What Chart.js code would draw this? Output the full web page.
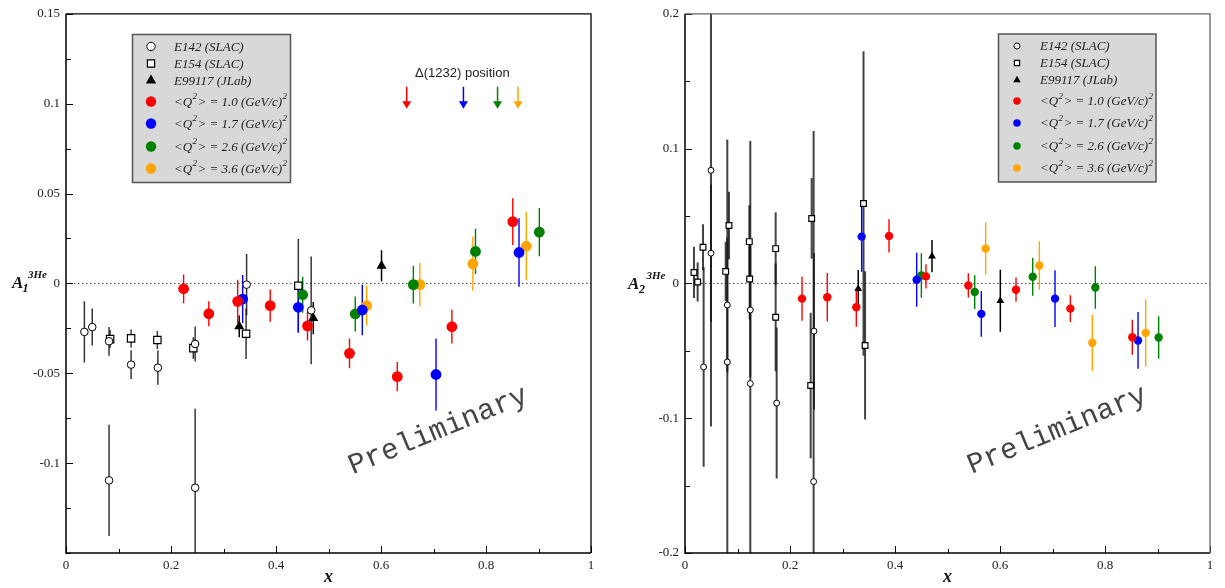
<!DOCTYPE html>
<html>
<head>
<meta charset="utf-8">
<title>A1 and A2 of 3He</title>
<script src="https://cdn.jsdelivr.net/npm/chart.js@4.4.1/dist/chart.umd.min.js"></script>
<style>
  body { margin: 0; background: #fff; }
  canvas { position: absolute; top: 0; }
  #chartA1 { left: 0; }
  #chartA2 { left: 612px; }
</style>
</head>
<body>
<canvas id="chartA1" width="612" height="588"></canvas>
<canvas id="chartA2" width="612" height="588"></canvas>
<script>
// ---- A1 (3He) ----
const a1E142X = [0.035, 0.050, 0.082, 0.124, 0.175, 0.246, 0.344, 0.467, 0.082, 0.246];
const a1E142Y = [-0.027, -0.0243, -0.0322, -0.0452, -0.0469, -0.0337, -0.0007, -0.015, -0.1096, -0.1137];
const a1E142Err = [0.017, 0.0103, 0.008, 0.008, 0.0095, 0.0097, 0.017, 0.030, 0.031, 0.044];

const a1E154X = [0.084, 0.124, 0.174, 0.2425, 0.343, 0.4425];
const a1E154Y = [-0.031, -0.0306, -0.0315, -0.036, -0.028, -0.0013];
const a1E154Err = [0.005, 0.005, 0.005, 0.006, 0.014, 0.026];

const a1JlabX = [0.330, 0.471, 0.601];
const a1JlabY = [-0.0239, -0.0193, 0.0098];
const a1JlabErr = [0.006, 0.009, 0.0087];

const a1Q10X = [0.224, 0.272, 0.327, 0.389, 0.460, 0.540, 0.631, 0.735, 0.851];
const a1Q10Y = [-0.003, -0.0169, -0.010, -0.0124, -0.0237, -0.0389, -0.0519, -0.0241, 0.0344];
const a1Q10Err = [0.008, 0.007, 0.012, 0.009, 0.008, 0.0083, 0.0081, 0.0094, 0.013];

const a1Q17X = [0.3365, 0.4425, 0.5644, 0.7048, 0.8629];
const a1Q17Y = [-0.0087, -0.0133, -0.0148, -0.0507, 0.0172];
const a1Q17Err = [0.0134, 0.014, 0.014, 0.020, 0.019];

const a1Q26X = [0.4508, 0.551, 0.6616, 0.780, 0.9016];
const a1Q26Y = [-0.0063, -0.017, -0.0007, 0.0178, 0.0285];
const a1Q26Err = [0.010, 0.0097, 0.0105, 0.0126, 0.0134];

const a1Q36X = [0.5727, 0.674, 0.775, 0.8768];
const a1Q36Y = [-0.0124, -0.0007, 0.0109, 0.0207];
const a1Q36Err = [0.011, 0.012, 0.015, 0.019];

// Delta(1232) position for each Q2 setting
const deltaX = [0.649, 0.757, 0.822, 0.861];

// ---- A2 (3He) ----
const a2E142X = [0.0355, 0.0495, 0.0495, 0.0806, 0.0806, 0.1244, 0.1244, 0.1746, 0.2457, 0.245];
const a2E142Y = [-0.062, 0.0839, 0.0224, -0.016, -0.0583, -0.0197, -0.0743, -0.0888, -0.0354, -0.147];
const a2E142Err = [0.074, 0.19, 0.051, 0.05, 0.165, 0.05, 0.18, 0.056, 0.058, 0.26];

const a2E154X = [0.0171, 0.0241, 0.0343, 0.0775, 0.0838, 0.1225, 0.1232, 0.1727, 0.1727, 0.2413, 0.2394, 0.340, 0.343];
const a2E154Y = [0.0081, 0.001, 0.0268, 0.0089, 0.043, 0.031, 0.0032, 0.0258, -0.0251, 0.0482, -0.0758, 0.0593, -0.046];
const a2E154Err = [0.019, 0.0145, 0.017, 0.022, 0.025, 0.027, 0.03, 0.027, 0.04, 0.03, 0.054, 0.113, 0.055];

const a2JlabX = [0.330, 0.4705, 0.6006];
const a2JlabY = [-0.004, 0.0202, -0.0128];
const a2JlabErr = [0.014, 0.012, 0.023];

const a2Q10X = [0.2229, 0.271, 0.3263, 0.3886, 0.459, 0.5397, 0.6305, 0.734, 0.852];
const a2Q10Y = [-0.0113, -0.0103, -0.0177, 0.0352, 0.0052, -0.0015, -0.0047, -0.0187, -0.0399];
const a2Q10Err = [0.0165, 0.018, 0.0145, 0.0123, 0.009, 0.009, 0.009, 0.0099, 0.013];

const a2Q17X = [0.3365, 0.4413, 0.5644, 0.7048, 0.8629];
const a2Q17Y = [0.0347, 0.0027, -0.0226, -0.0113, -0.0423];
const a2Q17Err = [0.026, 0.02, 0.017, 0.021, 0.021];

const a2Q26X = [0.4502, 0.5518, 0.6623, 0.7816, 0.9022];
const a2Q26Y = [0.0059, -0.0064, 0.0049, -0.003, -0.0401];
const a2Q26Err = [0.0165, 0.0125, 0.014, 0.0158, 0.0158];

const a2Q36X = [0.5727, 0.6749, 0.7758, 0.8775];
const a2Q36Y = [0.0258, 0.0133, -0.044, -0.0367];
const a2Q36Err = [0.0193, 0.018, 0.021, 0.025];

const q2Bins = [1.0, 1.7, 2.6, 3.6];
const q2Colors = ['#ff0000', '#0000ff', '#008000', '#ffa500'];
const legendLabels = ['E142 (SLAC)', 'E154 (SLAC)', 'E99117 (JLab)']
  .concat(q2Bins.map(q => `<Q²> = ${q.toFixed(1)} (GeV/c)²`));

const SERIF = '"Liberation Serif", "Times New Roman", serif';

function series(label, xs, ys, errs, style) {
  return Object.assign({
    label: label,
    data: xs.map((x, i) => ({ x: x, y: ys[i] })),
    err: errs
  }, style);
}

function panelDatasets(sets, small) {
  const k = small ? 0.78 : 1;
  const blackBar = small ? 'rgba(20,20,20,0.8)' : 'rgba(20,20,20,0.85)';
  const out = [
    series(legendLabels[0], sets[0][0], sets[0][1], sets[0][2],
      { pointStyle: 'circle', pointRadius: 3.8 * k, backgroundColor: '#fff', borderColor: '#000', borderWidth: 1, barColor: blackBar, barWidth: small ? 2 : 1.5 }),
    series(legendLabels[1], sets[1][0], sets[1][1], sets[1][2],
      { pointStyle: 'rect', pointRadius: 5.2 * k, backgroundColor: '#fff', borderColor: '#000', borderWidth: 1.2, barColor: blackBar, barWidth: small ? 2 : 1.5 }),
    series(legendLabels[2], sets[2][0], sets[2][1], sets[2][2],
      { pointStyle: 'triangle', pointRadius: 5.8 * k, backgroundColor: '#000', borderColor: '#000', borderWidth: 0, barColor: '#000', barWidth: 1.5 })
  ];
  for (let i = 0; i < 4; i++) {
    const s = sets[3 + i];
    out.push(series(legendLabels[3 + i], s[0], s[1], s[2],
      { pointStyle: 'circle', pointRadius: 5.4 * k, backgroundColor: q2Colors[i], borderColor: q2Colors[i], borderWidth: 0, barColor: q2Colors[i], barWidth: 1.4 }));
  }
  return out;
}

function tickLabel(every, hideBelow) {
  return v => {
    if (hideBelow !== undefined && v < hideBelow) return '';
    const k = v / every;
    return Math.abs(k - Math.round(k)) < 1e-6 ? String(+v.toFixed(3)) : '';
  };
}

// error bars under the markers, zero line
const errorBars = {
  id: 'errorBars',
  beforeDatasetsDraw(chart) {
    const { ctx, chartArea: a, scales: { x, y } } = chart;
    ctx.save();
    ctx.beginPath();
    ctx.rect(a.left, a.top, a.width, a.height);
    ctx.clip();

    ctx.strokeStyle = '#444';
    ctx.lineWidth = 1;
    ctx.setLineDash([1.5, 2.5]);
    const y0 = y.getPixelForValue(0);
    ctx.beginPath();
    ctx.moveTo(a.left, y0);
    ctx.lineTo(a.right, y0);
    ctx.stroke();
    ctx.setLineDash([]);

    chart.data.datasets.forEach(ds => {
      ctx.strokeStyle = ds.barColor;
      ctx.lineWidth = ds.barWidth;
      ds.data.forEach((p, i) => {
        const px = x.getPixelForValue(p.x);
        ctx.beginPath();
        ctx.moveTo(px, y.getPixelForValue(p.y - ds.err[i]));
        ctx.lineTo(px, y.getPixelForValue(p.y + ds.err[i]));
        ctx.stroke();
      });
    });
    ctx.restore();
  }
};

function legendMarker(ctx, ds, x, y, small) {
  const k = small ? 0.72 : 1;
  ctx.save();
  ctx.fillStyle = ds.backgroundColor;
  ctx.strokeStyle = ds.borderColor;
  ctx.lineWidth = ds.borderWidth || 1;
  ctx.beginPath();
  if (ds.pointStyle === 'rect') {
    const s = 3.6 * k;
    ctx.rect(x - s, y - s, 2 * s, 2 * s);
    ctx.fill(); ctx.stroke();
  } else if (ds.pointStyle === 'triangle') {
    const r = 6 * k;
    ctx.moveTo(x, y - r);
    ctx.lineTo(x + r * 0.866, y + r * 0.5);
    ctx.lineTo(x - r * 0.866, y + r * 0.5);
    ctx.closePath();
    ctx.fill();
  } else if (ds.backgroundColor === '#fff') {
    ctx.arc(x, y, 4.2 * k, 0, Math.PI * 2);
    ctx.fill(); ctx.stroke();
  } else {
    ctx.arc(x, y, 5.2 * k, 0, Math.PI * 2);
    ctx.fill();
  }
  ctx.restore();
}

// text with "²" drawn as a raised small 2
function drawSupText(ctx, text, x, y, size) {
  const parts = text.split('²');
  parts.forEach((p, i) => {
    ctx.font = `italic ${size}px ${SERIF}`;
    ctx.fillText(p, x, y);
    x += ctx.measureText(p).width;
    if (i < parts.length - 1) {
      ctx.font = `italic ${Math.round(size * 0.68)}px ${SERIF}`;
      ctx.fillText('2', x + 0.3, y - size * 0.42);
      x += ctx.measureText('2').width + 0.8;
    }
  });
}

const decor = {
  id: 'decor',
  afterDraw(chart, args, opts) {
    const { ctx, chartArea: a, scales: { x, y } } = chart;
    ctx.save();

    // inward tick marks
    ctx.strokeStyle = '#000';
    ctx.lineWidth = 1;
    x.ticks.forEach(t => {
      const px = Math.round(x.getPixelForValue(t.value)) + 0.5;
      const len = t.label ? 7 : 4;
      ctx.beginPath();
      ctx.moveTo(px, a.bottom);
      ctx.lineTo(px, a.bottom - len);
      ctx.stroke();
    });
    y.ticks.forEach(t => {
      const py = Math.round(y.getPixelForValue(t.value)) + 0.5;
      const len = t.label ? 7 : 5;
      ctx.beginPath();
      ctx.moveTo(a.left, py);
      ctx.lineTo(a.left + len, py);
      ctx.stroke();
    });

    // frame
    ctx.lineWidth = 1.5;
    ctx.strokeStyle = '#000';
    ctx.beginPath();
    ctx.moveTo(a.left, a.top);
    ctx.lineTo(a.left, a.bottom);
    ctx.lineTo(a.right, a.bottom);
    ctx.stroke();
    ctx.lineWidth = 1.3;
    ctx.strokeStyle = opts.frameColor;
    ctx.beginPath();
    ctx.moveTo(a.left, a.top);
    ctx.lineTo(a.right, a.top);
    ctx.lineTo(a.right, a.bottom);
    ctx.stroke();

    // y title A_n^{3He}
    const t = opts.yTitle;
    ctx.fillStyle = '#111';
    ctx.textAlign = 'left';
    ctx.textBaseline = 'alphabetic';
    ctx.font = `italic bold 17px ${SERIF}`;
    ctx.fillText('A', t.x, t.y);
    ctx.font = `italic bold 12px ${SERIF}`;
    ctx.fillText(t.sub, t.subX, t.y + 4);
    ctx.font = `italic bold 11px ${SERIF}`;
    ctx.fillText('3He', t.supX, t.y - 10);

    // legend box
    const b = opts.legendBox;
    ctx.fillStyle = '#d8d8d8';
    ctx.fillRect(b.x, b.y, b.w, b.h);
    ctx.strokeStyle = '#555';
    ctx.lineWidth = 1.5;
    ctx.strokeRect(b.x, b.y, b.w, b.h);
    const rows = [12, 29, 46, 67, 89, 112, 134];
    chart.data.datasets.forEach((ds, i) => {
      const ry = b.y + rows[i];
      legendMarker(ctx, ds, b.x + 18.5, ry, opts.small);
      ctx.fillStyle = '#222';
      ctx.textBaseline = 'middle';
      drawSupText(ctx, ds.label, b.x + 41.5, ry + 1, 13);
    });

    // Delta(1232) arrows
    if (opts.arrows) {
      const tip = y.getPixelForValue(opts.arrows.tip);
      const top = y.getPixelForValue(opts.arrows.top);
      deltaX.forEach((v, i) => {
        const px = x.getPixelForValue(v);
        ctx.strokeStyle = q2Colors[i];
        ctx.fillStyle = q2Colors[i];
        ctx.lineWidth = 1.5;
        ctx.beginPath();
        ctx.moveTo(px, top);
        ctx.lineTo(px, tip - 6);
        ctx.stroke();
        ctx.beginPath();
        ctx.moveTo(px - 4.5, tip - 7.5);
        ctx.lineTo(px + 4.5, tip - 7.5);
        ctx.lineTo(px, tip);
        ctx.closePath();
        ctx.fill();
      });
      ctx.fillStyle = '#222';
      ctx.font = '13px "Liberation Sans", Arial, sans-serif';
      ctx.textAlign = 'center';
      ctx.textBaseline = 'middle';
      ctx.fillText('Δ(1232) position', x.getPixelForValue(opts.arrows.labelX), y.getPixelForValue(opts.arrows.labelY));
    }

    // watermark
    const w = opts.watermark;
    ctx.translate(x.getPixelForValue(w.x), y.getPixelForValue(w.y));
    ctx.rotate(-22.5 * Math.PI / 180);
    ctx.fillStyle = '#444';
    ctx.font = '29px "Liberation Mono", "Courier New", monospace';
    ctx.textAlign = 'center';
    ctx.textBaseline = 'middle';
    ctx.fillText('Preliminary', 0, 0);

    ctx.restore();
  }
};

function makePanel(id, datasets, yMin, yMax, yStep, yLabelEvery, hideBelow, yWidth, padRight, extra) {
  return new Chart(document.getElementById(id), {
    type: 'scatter',
    data: { datasets: datasets },
    options: {
      responsive: false,
      animation: false,
      layout: { padding: { top: 12, right: padRight, bottom: 0, left: 0 } },
      plugins: {
        legend: { display: false },
        tooltip: { enabled: false },
        decor: extra
      },
      scales: {
        x: {
          type: 'linear', min: 0, max: 1,
          grid: { display: false, drawTicks: false },
          border: { display: false },
          ticks: {
            stepSize: 0.1, maxRotation: 0, autoSkip: false, padding: 5,
            color: '#222', font: { family: SERIF, size: 13 },
            callback: tickLabel(0.2)
          },
          title: {
            display: true, text: 'x', color: '#111',
            font: { family: SERIF, size: 18, style: 'italic', weight: 'bold' },
            padding: { top: 0, bottom: 0 }
          },
          afterFit: s => { s.height = 35; }
        },
        y: {
          type: 'linear', min: yMin, max: yMax,
          grid: { display: false, drawTicks: false },
          border: { display: false },
          ticks: {
            stepSize: yStep, autoSkip: false, padding: 6,
            color: '#222', font: { family: SERIF, size: 13 },
            callback: tickLabel(yLabelEvery, hideBelow)
          },
          afterFit: s => { s.width = yWidth; }
        }
      }
    },
    plugins: [errorBars, decor]
  });
}

makePanel('chartA1', panelDatasets([
  [a1E142X, a1E142Y, a1E142Err],
  [a1E154X, a1E154Y, a1E154Err],
  [a1JlabX, a1JlabY, a1JlabErr],
  [a1Q10X, a1Q10Y, a1Q10Err],
  [a1Q17X, a1Q17Y, a1Q17Err],
  [a1Q26X, a1Q26Y, a1Q26Err],
  [a1Q36X, a1Q36Y, a1Q36Err]
], false), -0.15, 0.15, 0.025, 0.05, -0.149, 66, 21, {
  small: false,
  frameColor: '#000',
  yTitle: { x: 12, y: 288, sub: '1', subX: 22.5, supX: 28 },
  legendBox: { x: 132.5, y: 34.5, w: 158, h: 148 },
  arrows: { top: 0.1094, tip: 0.0972, labelX: 0.755, labelY: 0.1167 },
  watermark: { x: 0.709, y: -0.082 }
});

makePanel('chartA2', panelDatasets([
  [a2E142X, a2E142Y, a2E142Err],
  [a2E154X, a2E154Y, a2E154Err],
  [a2JlabX, a2JlabY, a2JlabErr],
  [a2Q10X, a2Q10Y, a2Q10Err],
  [a2Q17X, a2Q17Y, a2Q17Err],
  [a2Q26X, a2Q26Y, a2Q26Err],
  [a2Q36X, a2Q36Y, a2Q36Err]
], true), -0.2, 0.2, 0.05, 0.1, undefined, 73, 14, {
  small: true,
  frameColor: '#666',
  yTitle: { x: 16, y: 289, sub: '2', subX: 27, supX: 34.5 },
  legendBox: { x: 386.5, y: 34, w: 157.5, h: 148 },
  arrows: null,
  watermark: { x: 0.709, y: -0.109 }
});
</script>
</body>
</html>
